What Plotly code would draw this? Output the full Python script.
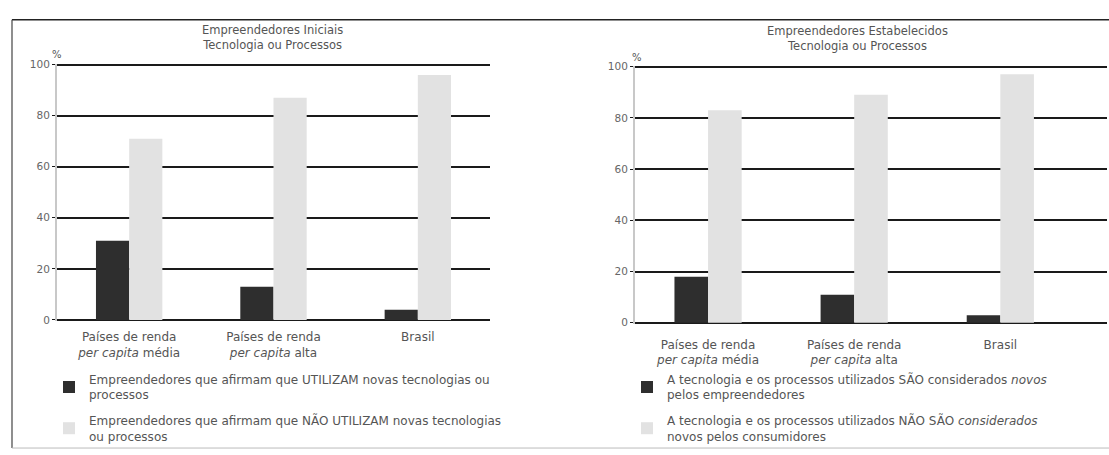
import plotly.graph_objects as go

categories = ["Países de renda<br><i>per capita</i> média", "Países de renda<br><i>per capita</i> alta", "Brasil"]
iniciais_utilizam = [31, 13, 4]
iniciais_nao_utilizam = [71, 87, 96]
estab_sao_novos = [18, 11, 3]
estab_nao_sao_novos = [83, 89, 97]
y_ticks = [0, 20, 40, 60, 80, 100]

title_left = "Empreendedores Iniciais<br>Tecnologia ou Processos"
title_right = "Empreendedores Estabelecidos<br>Tecnologia ou Processos"
leg_left = ["Empreendedores que afirmam que UTILIZAM novas tecnologias ou<br>processos",
            "Empreendedores que afirmam que NÃO UTILIZAM novas tecnologias<br>ou processos"]
leg_right = ["A tecnologia e os processos utilizados SÃO considerados <i>novos</i><br>pelos empreendedores",
             "A tecnologia e os processos utilizados NÃO SÃO <i>considerados</i><br>novos pelos consumidores"]

DARK = "#2e2e2e"
LIGHT = "#e2e2e2"
TXT = "#555555"
FONT = "DejaVu Sans, Verdana, sans-serif"

W, H = 1109, 455
fig = go.Figure()
fig.add_bar(x=categories, y=iniciais_utilizam, name=leg_left[0], marker=dict(color=DARK, line=dict(width=0)),
            xaxis="x", yaxis="y", legend="legend", legendgroup="a")
fig.add_bar(x=categories, y=iniciais_nao_utilizam, name=leg_left[1], marker=dict(color=LIGHT, line=dict(width=0)),
            xaxis="x", yaxis="y", legend="legend", legendgroup="b")
fig.add_bar(x=categories, y=estab_sao_novos, name=leg_right[0], marker=dict(color=DARK, line=dict(width=0)),
            xaxis="x2", yaxis="y2", legend="legend2", legendgroup="c")
fig.add_bar(x=categories, y=estab_nao_sao_novos, name=leg_right[1], marker=dict(color=LIGHT, line=dict(width=0)),
            xaxis="x2", yaxis="y2", legend="legend2", legendgroup="d")

def px(v): return v / W
def py(v): return (H - v) / H

yax = dict(range=[-0.4, 100.4], tickvals=y_ticks, showgrid=True, gridcolor="#1a1a1a", gridwidth=1.5,
           showline=True, linecolor="#c8c8c8", linewidth=2, ticks="outside", ticklen=3, tickcolor="#1a1a1a",
           tickfont=dict(size=10.5, color="#666666", family=FONT), zeroline=False, fixedrange=True)
xax = dict(showgrid=False, showline=False, ticks="", tickfont=dict(size=12, color=TXT, family=FONT),
           fixedrange=True)

legfont = dict(size=12, color=TXT, family=FONT)
fig.update_layout(
    width=W, height=H, margin=dict(l=0, r=0, t=0, b=0),
    paper_bgcolor="white", plot_bgcolor="white",
    barmode="group", bargap=0.54, bargroupgap=0,
    font=dict(family=FONT, color=TXT),
    xaxis=dict(xax, domain=[px(57), px(490)], anchor="y", range=[-0.5, 2.5], ticklabelstandoff=7),
    yaxis=dict(yax, domain=[py(323), py(60)], anchor="x"),
    xaxis2=dict(xax, domain=[px(635), px(1107)], anchor="y2", range=[-0.5, 2.73], ticklabelstandoff=12),
    yaxis2=dict(yax, domain=[py(326), py(62)], anchor="x2"),
    legend=dict(x=px(49), y=py(368), xanchor="left", yanchor="top", orientation="v",
                font=legfont, bgcolor="rgba(0,0,0,0)", traceorder="grouped",
                tracegroupgap=7, itemclick=False, itemdoubleclick=False),
    legend2=dict(x=px(627), y=py(368), xanchor="left", yanchor="top", orientation="v",
                 font=legfont, bgcolor="rgba(0,0,0,0)", traceorder="grouped",
                 tracegroupgap=7, itemclick=False, itemdoubleclick=False),
    showlegend=True,
)

tfont = dict(size=11.5, color=TXT, family=FONT)
fig.add_annotation(text=title_left, x=px(272), y=py(16), xref="paper", yref="paper", xanchor="center",
                   yanchor="top", showarrow=False, font=tfont)
fig.add_annotation(text=title_right, x=px(857), y=py(17), xref="paper", yref="paper", xanchor="center",
                   yanchor="top", showarrow=False, font=tfont)
fig.add_annotation(text="%", x=px(57), y=py(51), xref="paper", yref="paper", xanchor="center",
                   yanchor="middle", showarrow=False, font=dict(size=10, color=TXT, family=FONT))
fig.add_annotation(text="%", x=px(637), y=py(54), xref="paper", yref="paper", xanchor="center",
                   yanchor="middle", showarrow=False, font=dict(size=10, color=TXT, family=FONT))

# outer frame
fig.add_shape(type="line", xref="paper", yref="paper", x0=px(12), x1=1, y0=py(15), y1=py(15),
              line=dict(color="#222222", width=1.5))
fig.add_shape(type="line", xref="paper", yref="paper", x0=px(12), x1=px(12), y0=py(15), y1=py(453),
              line=dict(color="#444444", width=1.2))
fig.add_shape(type="line", xref="paper", yref="paper", x0=px(12), x1=1, y0=py(453), y1=py(453),
              line=dict(color="#bbbbbb", width=1))

fig.write_html("out.html")
